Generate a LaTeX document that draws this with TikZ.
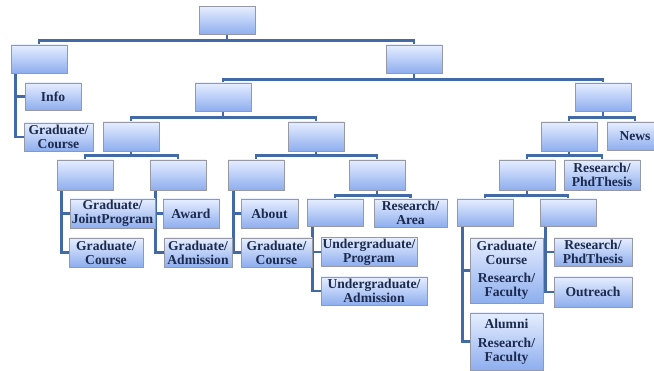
\documentclass[tikz,border=0pt]{standalone}
\usepackage{fontspec}
\setmainfont{Liberation Serif}
\usepackage{tikz}
\usetikzlibrary{shadows}
\pgfdeclarelayer{l1}
\pgfsetlayers{l1,main}
\definecolor{boxtop}{RGB}{230,238,255}
\definecolor{boxbot}{RGB}{142,174,238}
\definecolor{boxedge}{RGB}{150,152,165}
\definecolor{linkblue}{RGB}{66,106,166}
\definecolor{navytext}{RGB}{28,42,78}
\tikzstyle{pagebox} = [rectangle, draw=boxedge, line width=0.6pt, top color=boxtop, bottom color=boxbot, minimum width=56pt, minimum height=28pt, inner sep=1pt, text=navytext, align=center, font=\bfseries\fontsize{13.6}{14}\selectfont, drop shadow={shadow xshift=1pt, shadow yshift=-1pt, opacity=0.25}]
\tikzstyle{treeline} = [draw=linkblue, line width=2.8pt]
\newcommand{\gap}[1]{\\[#1]}

\begin{document}
\begin{tikzpicture}[x=1pt, y=-1pt]
\useasboundingbox (0,0) rectangle (654,371);
% Root and first level
    \node [pagebox] (root) at (227,20.5) {};
    \node [pagebox] (left) at (39,59) {};
    \node [pagebox] (right) at (414,59) {};
    \node [pagebox, minimum height=27pt] (info) at (53,96.5) {Info};
    \node [pagebox, minimum width=69pt] (lcourse) at (58.5,137) {Graduate/\\Course};
% Second and third level
    \node [pagebox] (grad) at (223,97) {};
    \node [pagebox] (res) at (603,97) {};
    \node [pagebox, minimum height=29pt] (gradl) at (131,136.5) {};
    \node [pagebox, minimum height=29pt] (gradr) at (316,136.5) {};
    \node [pagebox, minimum height=29pt] (resl) at (569,136.5) {};
    \node [pagebox] (news) at (635,136) {News};
% Fourth level
    \node [pagebox, minimum height=30pt] (gla) at (85,175) {};
    \node [pagebox, minimum height=30pt] (glb) at (178,175) {};
    \node [pagebox, minimum height=30pt] (gra) at (256,175) {};
    \node [pagebox, minimum height=30pt] (grb) at (377,175) {};
    \node [pagebox, minimum height=30pt] (rla) at (527,175) {};
    \node [pagebox, minimum width=76pt, minimum height=30pt] (rphdtop) at (602,175) {Research/\\PhdThesis};
% Leaves under the graduate branch
    \node [pagebox, minimum width=85pt, minimum height=29pt] (joint) at (112.5,213.5) {Graduate/\\JointProgram};
    \node [pagebox, minimum width=74pt, minimum height=29pt] (course1) at (106,252.5) {Graduate/\\Course};
    \node [pagebox, minimum height=29pt] (award) at (191,213.5) {Award};
    \node [pagebox, minimum width=68pt, minimum height=29pt] (admission) at (198,252.5) {Graduate/\\Admission};
    \node [pagebox, minimum width=57pt, minimum height=29pt] (about) at (269.5,213.5) {About};
    \node [pagebox, minimum width=71pt, minimum height=29pt] (course2) at (276.5,252.5) {Graduate/\\Course};
    \node [pagebox, minimum height=27pt] (grba) at (335,212.5) {};
    \node [pagebox, minimum width=73pt] (area) at (410.5,213) {Research/\\Area};
    \node [pagebox, minimum width=96pt] (ugprog) at (369,252) {Undergraduate/\\Program};
    \node [pagebox, minimum width=106pt] (ugadm) at (374,291) {Undergraduate/\\Admission};
% Leaves under the research branch
    \node [pagebox, minimum height=27pt] (rlaa) at (485,212.5) {};
    \node [pagebox, minimum height=27pt] (rlab) at (568,212.5) {};
    \node [pagebox, minimum width=73pt, minimum height=65pt] (gcfac) at (506.5,270.5) {Graduate/\\Course\gap{4pt}Research/\\Faculty};
    \node [pagebox, minimum width=73pt, minimum height=57pt] (alumni) at (506.5,341.5) {Alumni\gap{5pt}Research/\\Faculty};
    \node [pagebox, minimum width=78pt] (rphd) at (593,252) {Research/\\PhdThesis};
    \node [pagebox, minimum width=78pt, minimum height=30pt] (outreach) at (593,292) {Outreach};

\begin{pgfonlayer}{l1}
% Tree connectors
    \path [treeline] (root.south) -- ++(0,6) -| (left.north);
    \path [treeline] (root.south) -- ++(0,6) -| (right.north);
    \path [treeline] (right.south) -- ++(0,6) -| (grad.north);
    \path [treeline] (right.south) -- ++(0,6) -| (res.north);
    \path [treeline] (grad.south) -- ++(0,6) -| (gradl.north);
    \path [treeline] (grad.south) -- ++(0,6) -| (gradr.north);
    \path [treeline] (res.south) -- ++(0,6) -| (resl.north);
    \path [treeline] (res.south) -- ++(0,6) -| (news.north);
    \path [treeline] (gradl.south) -- ++(0,4) -| (gla.north);
    \path [treeline] (gradl.south) -- ++(0,4) -| (glb.north);
    \path [treeline] (gradr.south) -- ++(0,4) -| (gra.north);
    \path [treeline] (gradr.south) -- ++(0,4) -| (grb.north);
    \path [treeline] (resl.south) -- ++(0,4) -| (rla.north);
    \path [treeline] (resl.south) -- ++(0,4) -| (rphdtop.north);
    \path [treeline] (grb.south) -- ++(0,5) -| (grba.north);
    \path [treeline] (grb.south) -- ++(0,5) -| (area.north);
    \path [treeline] (rla.south) -- ++(0,5) -| (rlaa.north);
    \path [treeline] (rla.south) -- ++(0,5) -| (rlab.north);
% Side connectors
    \path [treeline] ([xshift=5pt]left.south west) |- (info.west);
    \path [treeline] ([xshift=5pt]left.south west) |- (lcourse.west);
    \path [treeline] ([xshift=5pt]gla.south west) |- (joint.west);
    \path [treeline] ([xshift=5pt]gla.south west) |- (course1.west);
    \path [treeline] ([xshift=6pt]glb.south west) |- (award.west);
    \path [treeline] ([xshift=6pt]glb.south west) |- (admission.west);
    \path [treeline] ([xshift=6pt]gra.south west) |- (about.west);
    \path [treeline] ([xshift=6pt]gra.south west) |- (course2.west);
    \path [treeline] ([xshift=6pt]grba.south west) |- (ugprog.west);
    \path [treeline] ([xshift=6pt]grba.south west) |- (ugadm.west);
    \path [treeline] ([xshift=6pt]rlaa.south west) |- (gcfac.west);
    \path [treeline] ([xshift=6pt]rlaa.south west) |- (alumni.west);
    \path [treeline] ([xshift=6pt]rlab.south west) |- (rphd.west);
    \path [treeline] ([xshift=6pt]rlab.south west) |- (outreach.west);
\end{pgfonlayer}
\end{tikzpicture}
\end{document}
